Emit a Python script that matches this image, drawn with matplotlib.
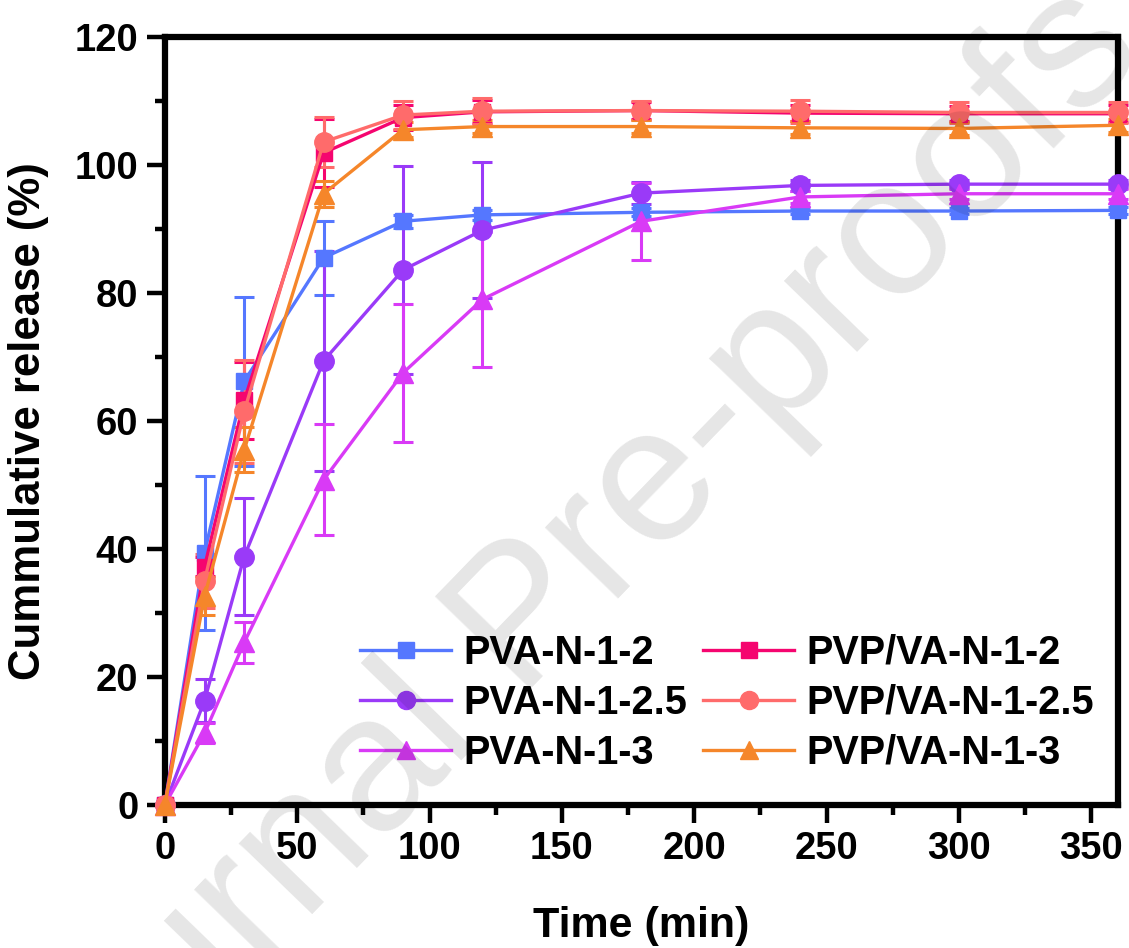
import matplotlib
matplotlib.use("Agg")
import matplotlib.pyplot as plt
from matplotlib.ticker import MultipleLocator
from matplotlib.lines import Line2D

plt.rcParams['font.family'] = ['Liberation Sans', 'DejaVu Sans']
plt.rcParams['font.weight'] = 'bold'

time = [0, 15, 30, 60, 90, 120, 180, 240, 300, 360]

labels = ["PVA-N-1-2", "PVP/VA-N-1-2", "PVA-N-1-2.5", "PVP/VA-N-1-2.5", "PVA-N-1-3", "PVP/VA-N-1-3"]

pva_12 = [0, 39.4, 66.2, 85.5, 91.2, 92.2, 92.6, 92.8, 92.8, 92.9]
pva_12_err = [0, 12.0, 13.2, 5.8, 1.0, 0.8, 0.6, 0.5, 0.5, 0.5]
pva_125 = [0, 16.3, 38.8, 69.4, 83.6, 89.8, 95.6, 96.8, 97.0, 97.0]
pva_125_err = [0, 3.3, 9.2, 17.2, 16.2, 10.6, 1.7, 0.8, 0.6, 0.6]
pva_13 = [0, 11.2, 25.4, 50.8, 67.5, 79.0, 91.2, 95.0, 95.5, 95.5]
pva_13_err = [0, 1.6, 3.2, 8.7, 10.8, 10.6, 6.0, 1.0, 0.8, 0.8]
pvp_12 = [0, 37.2, 63.2, 101.9, 107.4, 108.3, 108.5, 108.1, 108.0, 108.0]
pvp_12_err = [0, 1.5, 6.0, 5.3, 2.0, 1.8, 1.3, 1.2, 1.2, 1.3]
pvp_125 = [0, 35.0, 61.5, 103.6, 107.8, 108.4, 108.5, 108.4, 108.2, 108.2]
pvp_125_err = [0, 4.2, 8.0, 3.9, 2.2, 2.0, 1.5, 1.8, 1.6, 1.6]
pvp_13 = [0, 32.6, 55.5, 95.5, 105.5, 106.0, 106.0, 105.8, 105.7, 106.2]
pvp_13_err = [0, 3.0, 3.5, 2.0, 1.2, 1.0, 1.0, 1.0, 1.0, 1.0]

series = [
    (pva_12, pva_12_err, "#5577FF", "s", labels[0]),
    (pva_125, pva_125_err, "#9A3AF8", "o", labels[2]),
    (pva_13, pva_13_err, "#D93AF6", "^", labels[4]),
    (pvp_12, pvp_12_err, "#F5056F", "s", labels[1]),
    (pvp_125, pvp_125_err, "#FF6B6B", "o", labels[3]),
    (pvp_13, pvp_13_err, "#F5862A", "^", labels[5]),
]
msizes = {"s": 12, "o": 14, "^": 14}

fig = plt.figure(figsize=(11.29, 9.48), dpi=100)
ax = fig.add_axes([0.146, 0.151, 0.844, 0.810])

handles = {}
for vals, err, col, mk, lab in series:
    ax.errorbar(time, vals, yerr=err, color=col, marker=mk, markersize=msizes[mk],
                lw=2.4, elinewidth=2.2, capsize=7, capthick=2.2,
                mec=col, clip_on=False, zorder=3)
    handles[lab] = Line2D([], [], color=col, marker=mk, markersize=msizes[mk] - 1,
                          lw=2.4, mec=col)

ax.set_xlim(0, 360)
ax.set_ylim(0, 120)
ax.xaxis.set_major_locator(MultipleLocator(50))
ax.xaxis.set_minor_locator(MultipleLocator(25))
ax.yaxis.set_major_locator(MultipleLocator(20))
ax.yaxis.set_minor_locator(MultipleLocator(10))
ax.tick_params(which='major', direction='out', length=13, width=3.2, labelsize=27.5, pad=6)
ax.tick_params(which='minor', direction='out', length=7, width=3.2)
ax.tick_params(top=False, right=False)
for lab in ax.get_xticklabels() + ax.get_yticklabels():
    lab.set_fontweight('bold')
for sp in ax.spines.values():
    sp.set_linewidth(4.5)

ax.set_xlabel("Time (min)", fontsize=31, fontweight='bold')
ax.xaxis.set_label_coords(0.5, -0.132)
ax.set_ylabel("Cummulative release (%)", fontsize=31.5, fontweight='bold')
ax.yaxis.set_label_coords(-0.122, 0.5)

order = [labels[0], labels[2], labels[4], labels[1], labels[3], labels[5]]
leg = ax.legend([handles[l] for l in order], order, ncol=2, frameon=False,
                loc='center', bbox_to_anchor=(0.59, 0.133),
                prop={'size': 28.5, 'weight': 'bold'}, handlelength=2.3,
                handletextpad=0.3, columnspacing=0.4, labelspacing=0.3)

fig.text(1.016, 0.944, "Journal Pre-proofs", rotation=45.9, rotation_mode='anchor',
         ha='right', va='baseline', fontsize=139, color='black', alpha=0.1,
         fontweight='normal', zorder=10)

fig.savefig("out.png", dpi=100)
